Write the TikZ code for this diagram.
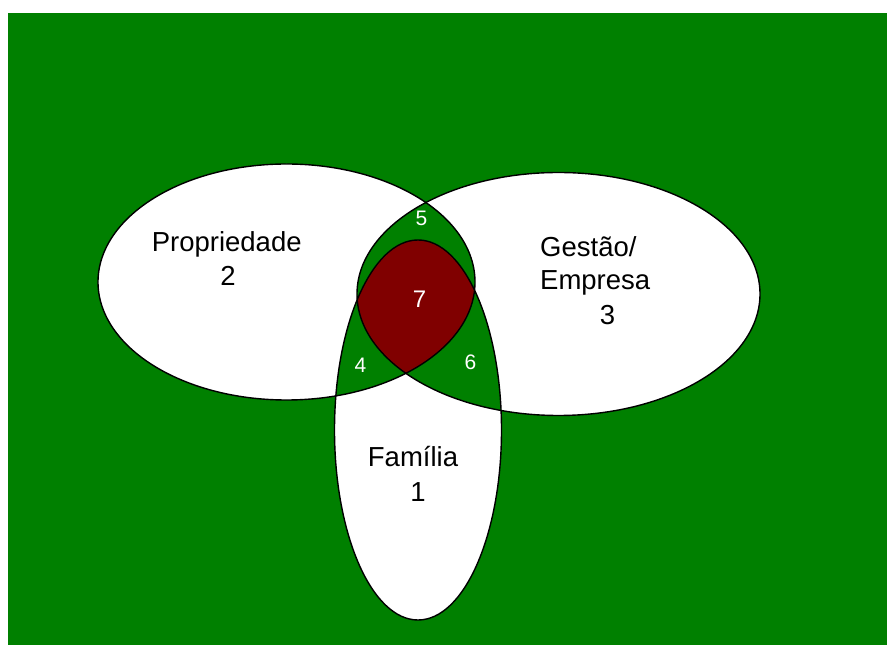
\documentclass[tikz,border=0pt]{standalone}
\usepackage{fontspec}
\setmainfont{Liberation Sans}
\definecolor{bggreen}{HTML}{008000}
\definecolor{coreRed}{HTML}{800000}
\begin{document}
\begin{tikzpicture}[x=1pt,y=1pt,
  setlabel/.style={inner sep=0pt, font=\fontsize{27.5}{33}\selectfont, text=black},
  regnum/.style={inner sep=0pt, font=\fontsize{21}{25}\selectfont, text=white},
  outline/.style={draw=black, line width=1.4pt}]
% the three sets
\def\pathProp{(286.5,363) ellipse [x radius=188.5, y radius=118]}
\def\pathGest{(558.5,351) ellipse [x radius=201.5, y radius=121.5]}
\def\pathFam{(418,215) ellipse [x radius=83.5, y radius=190]}
\useasboundingbox (0,0) rectangle (887,645);
\fill[white] (0,0) rectangle (887,645);
\fill[bggreen] (8,0) rectangle (887,632);
% set interiors
\fill[white] \pathProp;
\fill[white] \pathGest;
\fill[white] \pathFam;
% pairwise overlaps
\begin{scope}
  \clip \pathProp;
  \fill[bggreen] \pathGest;
  \fill[bggreen] \pathFam;
\end{scope}
\begin{scope}
  \clip \pathGest;
  \fill[bggreen] \pathFam;
\end{scope}
% common core
\begin{scope}
  \clip \pathProp;
  \clip \pathGest;
  \fill[coreRed] \pathFam;
\end{scope}
% outlines
\draw[outline] \pathProp;
\draw[outline] \pathGest;
\draw[outline] \pathFam;
% set names
\node[setlabel, anchor=base] (propname) at (226.7,393.3) {Propriedade};
\node[setlabel, anchor=base] (propnum) at (228,359) {2};
\node[setlabel, anchor=base west] (gestname) at (540,388.3) {Gestão/};
\node[setlabel, anchor=base west] (gestname2) at (540,355) {Empresa};
\node[setlabel, anchor=base] (gestnum) at (607.5,320) {3};
\node[setlabel, anchor=base] (famname) at (413,178) {Família};
\node[setlabel, anchor=base] (famnum) at (418,143.3) {1};
% overlap numbers
\node[regnum, anchor=base] (r5) at (421.5,419) {5};
\node[regnum, anchor=base, font=\fontsize{24}{28}\selectfont] (r7) at (419.5,337.3) {7};
\node[regnum, anchor=base] (r4) at (360.5,272) {4};
\node[regnum, anchor=base] (r6) at (470.5,275) {6};
\end{tikzpicture}
\end{document}
